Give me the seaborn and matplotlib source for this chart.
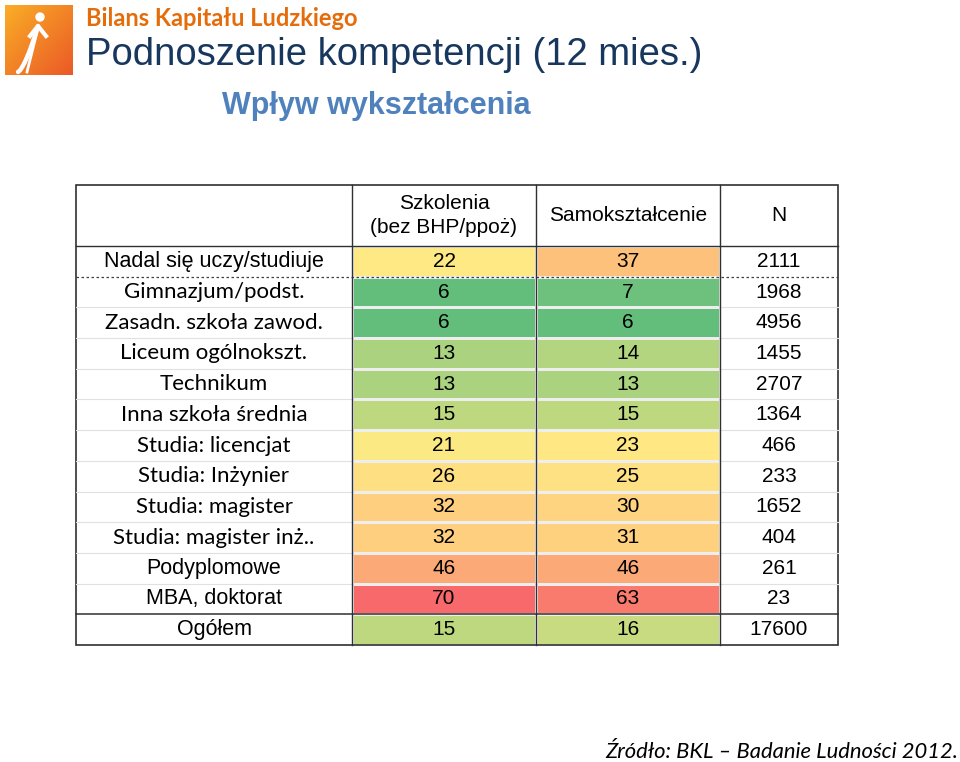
import matplotlib
matplotlib.use('Agg')
import matplotlib.pyplot as plt
import numpy as np
import pandas as pd
import seaborn as sns
from matplotlib.colors import LinearSegmentedColormap
from matplotlib.patches import Rectangle, Circle

# data
rows = ['Nadal się uczy/studiuje', 'Gimnazjum/podst.', 'Zasadn. szkoła zawod.',
        'Liceum ogólnokszt.', 'Technikum', 'Inna szkoła średnia',
        'Studia: licencjat', 'Studia: Inżynier', 'Studia: magister',
        'Studia: magister inż..', 'Podyplomowe', 'MBA, doktorat', 'Ogółem']
szkolenia = [22, 6, 6, 13, 13, 15, 21, 26, 32, 32, 46, 70, 15]
samoksztalcenie = [37, 7, 6, 14, 13, 15, 23, 25, 30, 31, 46, 63, 16]
n_resp = [2111, 1968, 4956, 1455, 2707, 1364, 466, 233, 1652, 404, 261, 23, 17600]
col_labels = ['Szkolenia\n(bez BHP/ppoż)', 'Samokształcenie', 'N']
arial_rows = ['Nadal się uczy/studiuje', 'Podyplomowe', 'MBA, doktorat', 'Ogółem']

df = pd.DataFrame({'Szkolenia': szkolenia, 'Samokształcenie': samoksztalcenie}, index=rows)

# excel-like 3 colour scale, midpoint = median of all values
vals = df.values.ravel()
vmin, vmax, vmid = vals.min(), vals.max(), np.median(vals)
pos = (vmid - vmin) / (vmax - vmin)
cmap = LinearSegmentedColormap.from_list(
    'excel', [(0, '#63BE7B'), (pos, '#FFEB84'), (1, '#F8696B')])

W, H = 960, 762
fig = plt.figure(figsize=(9.6, 7.62), dpi=100)

# layout in pixels
x_lab, x_c1, x_c2, x_n, x_end = 76, 352, 536, 720, 838
y_top, y_head, y_bot = 185, 246, 645
nrow = len(rows)
rowh = (y_bot - y_head) / nrow

hm_ax = fig.add_axes([x_c1 / W, 1 - y_bot / H, (x_n - x_c1) / W, (y_bot - y_head) / H])
sns.heatmap(df, ax=hm_ax, cmap=cmap, vmin=vmin, vmax=vmax, cbar=False,
            annot=False, linewidths=0.8, linecolor='#EEEEEE',
            xticklabels=False, yticklabels=False)
hm_ax.set_xlabel('')
hm_ax.set_ylabel('')

# overlay in pixel coords
ax = fig.add_axes([0, 0, 1, 1])
ax.set_xlim(0, W)
ax.set_ylim(H, 0)
ax.axis('off')

# logo
grad = np.linspace(0, 1, 60)
gx, gy = np.meshgrid(grad, grad)
g = (gx + gy) / 2
logo = np.dstack([0.98 - 0.06 * g, 0.68 - 0.33 * g, 0.15 + 0.0 * g])
ax.imshow(logo, extent=(5, 73, 75, 5), zorder=1)
ax.add_patch(Circle((40, 17), 4, color='white', zorder=2))
t = np.linspace(0, 1, 30)
ax.plot(18 + 20 * t ** 0.7, 72 - 46 * t, color='white', lw=3.2, zorder=2, solid_capstyle='round')
ax.plot(27 + 10 * t, 72 - 40 * t, color='white', lw=2, zorder=2)
ax.plot([30, 38, 46], [36, 26, 36], color='white', lw=3, zorder=2)

ax.text(86, 18, 'Bilans Kapitału Ludzkiego', fontsize=17, fontweight='bold',
        color='#E46C0A', family='Lato', va='center', ha='left')
ax.text(86, 55, 'Podnoszenie kompetencji (12 mies.)', fontsize=27.5,
        color='#17375E', family='Liberation Sans', va='center', ha='left')
ax.text(222, 106, 'Wpływ wykształcenia', fontsize=22, fontweight='bold',
        color='#4F81BD', family='Liberation Sans', va='center', ha='left')

# header
hy = (y_top + y_head) / 2
cx = [(x_c1 + x_c2) / 2, (x_c2 + x_n) / 2, (x_n + x_end) / 2]
for x, lab in zip(cx, col_labels):
    ax.text(x, hy, lab, fontsize=15, family='Liberation Sans', ha='center',
            va='center', linespacing=1.35)

# body text
for i, lab in enumerate(rows):
    y = y_head + (i + 0.5) * rowh
    if lab in arial_rows:
        ax.text((x_lab + x_c1) / 2, y, lab, fontsize=15.5, family='Liberation Sans',
                ha='center', va='center')
    else:
        ax.text((x_lab + x_c1) / 2, y, lab, fontsize=16, family='Lato',
                ha='center', va='center')
    ax.text(cx[0], y, str(szkolenia[i]), fontsize=15, family='Liberation Sans', ha='center', va='center')
    ax.text(cx[1], y, str(samoksztalcenie[i]), fontsize=15, family='Liberation Sans', ha='center', va='center')
    ax.text(cx[2], y, str(n_resp[i]), fontsize=15, family='Liberation Sans', ha='center', va='center')

# grid lines
for i in range(1, nrow):
    y = y_head + i * rowh
    if i == 1:
        ax.plot([x_lab, x_end], [y, y], color='#404040', lw=0.9, ls=(0, (2, 2)))
    elif i == nrow - 1:
        ax.plot([x_lab, x_end], [y, y], color='#303030', lw=1.1)
    else:
        ax.plot([x_lab, x_c1], [y, y], color='#E0E0E0', lw=0.8)
        ax.plot([x_n, x_end], [y, y], color='#E0E0E0', lw=0.8)
for x in [x_c1, x_c2, x_n]:
    ax.plot([x, x], [y_top, y_bot], color='#303030', lw=1)
ax.plot([x_lab, x_end], [y_head, y_head], color='#303030', lw=1)
ax.add_patch(Rectangle((x_lab, y_top), x_end - x_lab, y_bot - y_top,
                       fill=False, edgecolor='#303030', lw=1.2))

ax.text(958, 752, 'Źródło: BKL – Badanie Ludności 2012.', fontsize=15.8,
        style='italic', family='Lato', ha='right', va='center')

fig.savefig('out.png', dpi=100)
